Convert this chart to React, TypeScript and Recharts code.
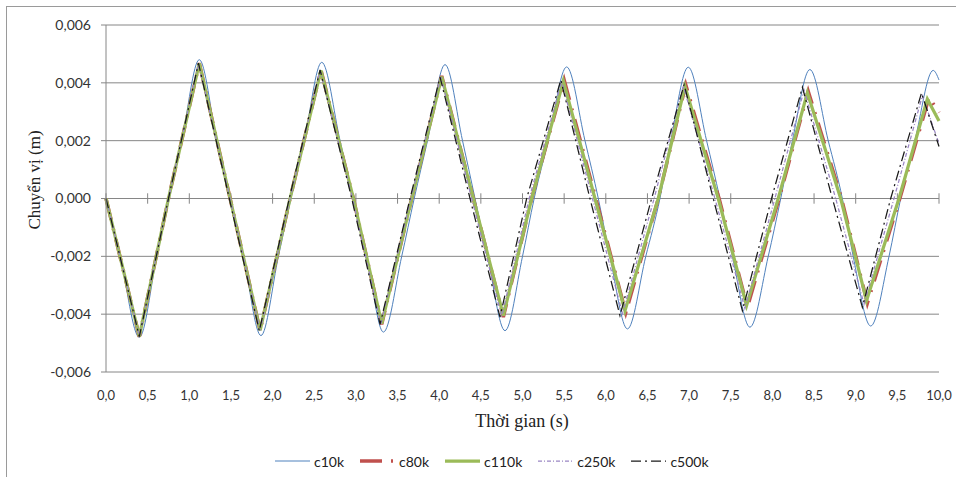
import { LineChart, Line, XAxis, YAxis, CartesianGrid, ReferenceLine } from "recharts";

type Pt = [number, number];

const xTicks = [0, 0.5, 1, 1.5, 2, 2.5, 3, 3.5, 4, 4.5, 5, 5.5, 6, 6.5, 7, 7.5, 8, 8.5, 9, 9.5, 10];
const yTicks = [-0.006, -0.004, -0.002, 0, 0.002, 0.004, 0.006];

// [time (s), displacement (m)]
const c10k: Pt[] = [
  [0, 0], [0.17, -0.002], [0.4, -0.0048], [0.61, -0.002], [0.76, 0], [0.91, 0.002],
  [1.12, 0.0048], [1.33, 0.002], [1.49, 0], [1.65, -0.002], [1.86, -0.00474], [2.07, -0.002],
  [2.22, 0], [2.38, 0.002], [2.59, 0.00471], [2.81, 0.002], [2.97, 0], [3.13, -0.002],
  [3.33, -0.00462], [3.55, -0.002], [3.7, 0], [3.86, 0.002], [4.07, 0.00463], [4.28, 0.002],
  [4.43, 0], [4.58, -0.002], [4.79, -0.00457], [5.0, -0.002], [5.14, 0], [5.31, 0.002],
  [5.53, 0.00455], [5.75, 0.002], [5.91, 0], [6.05, -0.002], [6.26, -0.00451], [6.48, -0.002],
  [6.65, 0], [6.78, 0.002], [6.99, 0.00454], [7.21, 0.002], [7.37, 0], [7.52, -0.002],
  [7.73, -0.00445], [7.95, -0.002], [8.1, 0], [8.24, 0.002], [8.45, 0.00446], [8.67, 0.002],
  [8.84, 0], [8.97, -0.002], [9.18, -0.00441], [9.4, -0.002], [9.54, 0], [9.71, 0.002],
  [9.93, 0.00443], [10.0, 0.0041],
];

const c80k: Pt[] = [
  [0, 0], [0.4, -0.00478], [0.75, 0], [1.12, 0.00468], [1.49, 0], [1.85, -0.00457],
  [2.21, 0], [2.58, 0.00445], [2.97, 0], [3.31, -0.00435], [3.67, 0], [4.03, 0.00424],
  [4.41, 0], [4.77, -0.0041], [5.11, 0], [5.5, 0.0041], [5.88, 0], [6.24, -0.00395],
  [6.63, 0], [6.96, 0.00393], [7.36, 0], [7.7, -0.00376], [8.08, 0], [8.43, 0.00371],
  [8.83, 0], [9.14, -0.00362], [9.53, 0], [9.88, 0.0035], [10.0, 0.00297],
];

const c110k: Pt[] = [
  [0, 0], [0.4, -0.00477], [0.75, 0], [1.12, 0.00467], [1.49, 0], [1.85, -0.00456],
  [2.21, 0], [2.58, 0.00443], [2.97, 0], [3.31, -0.00433], [3.67, 0], [4.03, 0.00421],
  [4.41, 0], [4.77, -0.00405], [5.11, 0], [5.49, 0.00406], [5.87, 0], [6.23, -0.00388],
  [6.63, 0], [6.95, 0.00388], [7.35, 0], [7.69, -0.0037], [8.07, 0], [8.42, 0.00366],
  [8.82, 0], [9.13, -0.00353], [9.52, 0], [9.86, 0.00344], [10.0, 0.00268],
];

const c250k: Pt[] = [
  [0, 0], [0.4, -0.00477], [0.75, 0], [1.11, 0.00467], [1.49, 0], [1.85, -0.00457],
  [2.21, 0], [2.57, 0.00444], [2.96, 0], [3.3, -0.00434], [3.66, 0], [4.02, 0.0042],
  [4.39, 0], [4.75, -0.00408], [5.08, 0], [5.47, 0.00405], [5.84, 0], [6.2, -0.00398],
  [6.58, 0], [6.93, 0.0039], [7.31, 0], [7.67, -0.0038], [8.03, 0], [8.38, 0.00375],
  [8.76, 0], [9.1, -0.00365], [9.46, 0], [9.8, 0.00355], [10.0, 0.0019],
];

const c500k: Pt[] = [
  [0, 0], [0.4, -0.00478], [0.75, 0], [1.11, 0.00468], [1.48, 0], [1.84, -0.00458],
  [2.2, 0], [2.57, 0.00445], [2.95, 0], [3.29, -0.00435], [3.65, 0], [4.01, 0.0042],
  [4.37, 0], [4.73, -0.0041], [5.05, 0], [5.46, 0.0041], [5.81, 0], [6.17, -0.00405],
  [6.55, 0], [6.94, 0.00394], [7.29, 0], [7.64, -0.00388], [7.99, 0], [8.36, 0.00385],
  [8.72, 0], [9.08, -0.00376], [9.42, 0], [9.79, 0.00365], [10.0, 0.0018],
];

const series = [
  { name: "c10k", points: c10k, color: "#4F81BD", width: 1, dash: undefined, curve: "monotone" },
  { name: "c80k", points: c80k, color: "#C0504D", width: 3.5, dash: "22 9 2 9", curve: "linear" },
  { name: "c110k", points: c110k, color: "#9BBB59", width: 3.25, dash: undefined, curve: "linear" },
  { name: "c250k", points: c250k, color: "#9A86C4", width: 1.25, dash: "4 2 1 2", curve: "linear" },
  { name: "c500k", points: c500k, color: "#1A1A1A", width: 1.25, dash: "10 4 2 4", curve: "linear" },
] as const;

const GRID = "#868686";
const TICK_HALF = 0.00018;

const fmtY = (v: number) => v.toFixed(3).replace(".", ",");
const fmtX = (v: number) => v.toFixed(1).replace(".", ",");

const ChartLegend = () => (
  <div
    style={{
      position: "absolute",
      left: 275,
      top: 452,
      height: 18,
      display: "flex",
      alignItems: "center",
      gap: 16,
      fontFamily: "Lato, sans-serif",
      fontSize: 14,
      color: "#222",
    }}
  >
    {series.map((s) => (
      <div key={s.name} style={{ display: "flex", alignItems: "center", gap: 4 }}>
        <svg width={35} height={10}>
          <line x1={0} y1={5} x2={35} y2={5} stroke={s.color} strokeWidth={s.width} strokeDasharray={s.dash} />
        </svg>
        <span>{s.name}</span>
      </div>
    ))}
  </div>
);

export default function App() {
  return (
    <div style={{ position: "absolute", left: 0, top: 0, width: 956, height: 477, background: "#fff" }}>
      <div
        style={{
          position: "absolute",
          left: 6,
          top: 6,
          width: 950,
          height: 471,
          borderLeft: "1px solid #9A9A9A",
          borderTop: "1px solid #9A9A9A",
        }}
      />
      <LineChart width={956} height={477} margin={{ top: 25, right: 17, left: 0, bottom: 0 }}>
        <CartesianGrid vertical={false} stroke={GRID} />
        <XAxis
          type="number"
          dataKey="t"
          domain={[0, 10]}
          ticks={xTicks}
          tickFormatter={fmtX}
          height={105}
          axisLine={false}
          tickLine={false}
          tickSize={0}
          tickMargin={19}
          interval={0}
          tick={{ fontSize: 13, fill: "#333", fontFamily: "Lato, sans-serif" }}
        />
        <YAxis
          type="number"
          domain={[-0.006, 0.006]}
          ticks={yTicks}
          tickFormatter={fmtY}
          width={106}
          axisLine={{ stroke: GRID }}
          tickLine={{ stroke: GRID }}
          tickSize={5}
          tickMargin={10}
          interval={0}
          tick={{ fontSize: 14, fill: "#333", fontFamily: "Lato, sans-serif" }}
        />
        {xTicks.map((t) => (
          <ReferenceLine
            key={t}
            segment={[
              { x: t, y: -TICK_HALF },
              { x: t, y: TICK_HALF },
            ]}
            stroke={GRID}
          />
        ))}
        {series.map((s) => (
          <Line
            key={s.name}
            data={s.points.map(([t, v]) => ({ t, v }))}
            dataKey="v"
            name={s.name}
            type={s.curve}
            stroke={s.color}
            strokeWidth={s.width}
            strokeDasharray={s.dash}
            dot={false}
            activeDot={false}
            isAnimationActive={false}
          />
        ))}
      </LineChart>
      <div
        style={{
          position: "absolute",
          left: 35,
          top: 180,
          transform: "translate(-50%, -50%) rotate(-90deg)",
          whiteSpace: "nowrap",
          fontFamily: '"Liberation Serif", serif',
          fontSize: 17,
          color: "#222",
        }}
      >
        Chuyển vị (m)
      </div>
      <div
        style={{
          position: "absolute",
          left: 522,
          top: 421,
          transform: "translate(-50%, -50%)",
          whiteSpace: "nowrap",
          fontFamily: '"Liberation Serif", serif',
          fontSize: 18,
          color: "#222",
        }}
      >
        Thời gian (s)
      </div>
      <ChartLegend />
    </div>
  );
}
